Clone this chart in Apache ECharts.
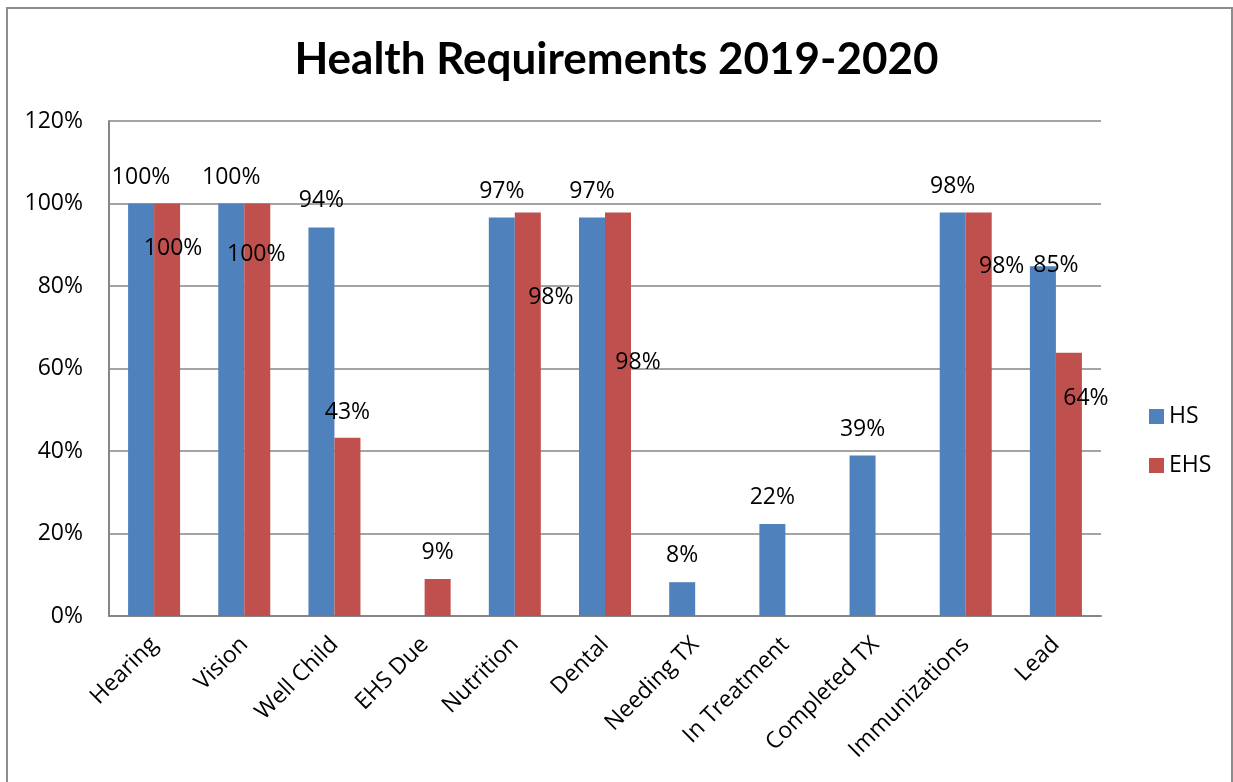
<!DOCTYPE html>
<html>
<head>
<meta charset="utf-8">
<script src="https://cdn.jsdelivr.net/npm/echarts@6/dist/echarts.min.js"></script>
<style>
  html, body { margin: 0; padding: 0; background: #fff; }
  #chart { width: 1233px; height: 782px; }
</style>
</head>
<body>
<div id="chart"></div>
<script>
// Categories and series values (fractions of 1)
const categories = ['Hearing', 'Vision', 'Well Child', 'EHS Due', 'Nutrition', 'Dental',
  'Needing TX', 'In Treatment', 'Completed TX', 'Immunizations', 'Lead'];
const hsValues  = [1.00, 1.00, 0.942, null, 0.966, 0.966, 0.082, 0.223, 0.389, 0.978, 0.848];
const ehsValues = [1.00, 1.00, 0.432, 0.090, 0.978, 0.978, null, null, null, 0.978, 0.638];
const yTicks = [0, 0.2, 0.4, 0.6, 0.8, 1.0, 1.2];

// Per-point label nudges [dx, dy] in pixels
const hsLabelOffsets  = [[0,0],[0,0],[0,0],[0,0],[0,0],[0,0],[0,0],[0,0],[0,0],[0,0],[13,26]];
const ehsLabelOffsets = [[6,71],[-1,77],[0,1],[0,0],[23,111],[20,176],[0,0],[0,0],[0,0],[23,80],[17,72]];

const FONT = '"Open Sans", sans-serif';
const pct = v => Math.round(v * 100) + '%';

function buildData(values, offsets) {
  return values.map((v, i) => ({
    value: v,
    label: { offset: offsets[i] }
  }));
}

const chart = echarts.init(document.getElementById('chart'), null, { renderer: 'canvas' });

chart.setOption({
  backgroundColor: '#fff',
  animation: false,
  title: {
    text: 'Health Requirements 2019-2020',
    left: 'center',
    top: 33,
    textStyle: { fontFamily: 'Lato, sans-serif', fontWeight: 'bold', fontSize: 44, color: '#000' }
  },
  legend: {
    orient: 'vertical',
    left: 1144,
    top: 400,
    itemWidth: 15,
    itemHeight: 15,
    itemGap: 26,
    icon: 'rect',
    textStyle: { fontFamily: FONT, fontSize: 23, color: '#000' },
    data: ['HS', 'EHS']
  },
  grid: { left: 109, right: 132, top: 121, bottom: 166, containLabel: false },
  xAxis: {
    type: 'category',
    data: categories,
    axisLine: { lineStyle: { color: '#868686', width: 2 } },
    axisTick: { show: false },
    axisLabel: {
      rotate: 45,
      interval: 0,
      margin: 25,
      fontFamily: FONT,
      fontSize: 23,
      color: '#000'
    }
  },
  yAxis: {
    type: 'value',
    min: yTicks[0],
    max: yTicks[yTicks.length - 1],
    interval: 0.2,
    axisLine: { show: true, lineStyle: { color: '#868686', width: 2 } },
    axisTick: { show: false },
    splitLine: { lineStyle: { color: '#868686', width: 1.5 } },
    axisLabel: {
      margin: 26,
      fontFamily: FONT,
      fontSize: 23,
      color: '#000',
      formatter: v => pct(v)
    }
  },
  series: [
    {
      name: 'HS',
      type: 'bar',
      barWidth: 26,
      barGap: '0%',
      itemStyle: { color: '#4F81BD' },
      label: {
        show: true, position: 'top', distance: 15,
        fontFamily: FONT, fontSize: 23, color: '#000',
        formatter: p => pct(p.value)
      },
      data: buildData(hsValues, hsLabelOffsets)
    },
    {
      name: 'EHS',
      type: 'bar',
      barWidth: 26,
      itemStyle: { color: '#C0504D' },
      label: {
        show: true, position: 'top', distance: 15,
        fontFamily: FONT, fontSize: 23, color: '#000',
        formatter: p => pct(p.value)
      },
      data: buildData(ehsValues, ehsLabelOffsets)
    }
  ],
  graphic: [{
    type: 'rect',
    shape: { x: 7, y: 8, width: 1225, height: 800 },
    style: { fill: 'none', stroke: '#8c8c8c', lineWidth: 2 },
    silent: true
  }]
});
</script>
</body>
</html>
